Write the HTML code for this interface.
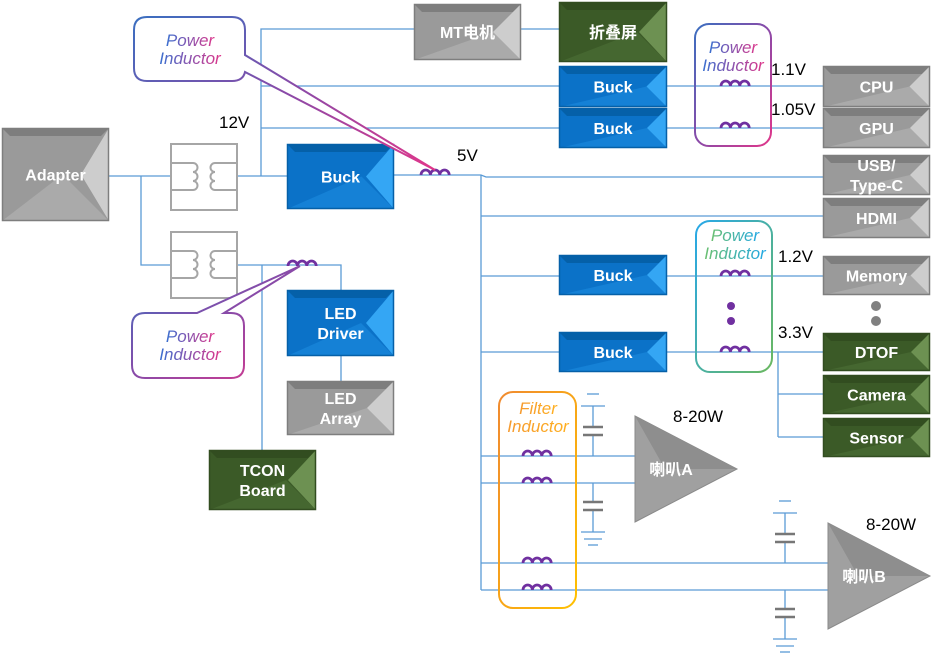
<!DOCTYPE html>
<html><head><meta charset="utf-8"><style>
html,body{margin:0;padding:0;background:#fff;}
svg{display:block;font-family:"Liberation Sans","Noto Sans CJK SC",sans-serif;}
.bt{font-weight:bold;fill:#fff;font-size:16px;}
.v{font-size:17px;fill:#000;}
</style></head><body>
<svg id="s" width="944" height="653" viewBox="0 0 944 653" xmlns="http://www.w3.org/2000/svg">
<defs>
<linearGradient id="g1" x1="0" y1="0" x2="1" y2="1"><stop offset="0" stop-color="#3a6fc0"/><stop offset="0.5" stop-color="#8a4aa8"/><stop offset="1" stop-color="#e0368a"/></linearGradient>
<linearGradient id="g2" x1="0" y1="0" x2="1" y2="1"><stop offset="0" stop-color="#28a8e8"/><stop offset="1" stop-color="#6ab860"/></linearGradient>
<linearGradient id="g3" x1="0" y1="0" x2="1" y2="1"><stop offset="0" stop-color="#f08a30"/><stop offset="1" stop-color="#ffc000"/></linearGradient>
<linearGradient id="t1" x1="0" y1="0" x2="1" y2="0"><stop offset="0" stop-color="#3a70d0"/><stop offset="1" stop-color="#e0368a"/></linearGradient>
<linearGradient id="t2" x1="0" y1="0" x2="1" y2="0"><stop offset="0" stop-color="#6cc070"/><stop offset="1" stop-color="#20a8e8"/></linearGradient>
<linearGradient id="t3" x1="0" y1="0" x2="1" y2="0"><stop offset="0" stop-color="#f59a30"/><stop offset="1" stop-color="#ffb020"/></linearGradient>
</defs>
<g id="lines" stroke="#5b9bd5" stroke-width="1.3" fill="none"></g>
<g id="fig"></g>
</svg>
<script>
var NS="http://www.w3.org/2000/svg";
function el(p,t,a,txt){var e=document.createElementNS(NS,t);for(var k in a)e.setAttribute(k,a[k]);if(txt!=null)e.textContent=txt;p.appendChild(e);return e;}
var L=document.getElementById('lines'),F=document.getElementById('fig');
function ln(pts){el(L,'polyline',{points:pts});}
[
"109,176 170,176","141,176 141,265 170,265",
"237,176 287,176","261,176 261,29 414,29","261,86 559,86","261,128 559,128","521,29 559,29",
"667,86 823,86","667,128 823,128",
"394,175 481,175 486,177 823,177","481,175 481,590","481,216 823,216",
"481,276 559,276","481,352 559,352","667,276 823,276","667,352 823,352",
"778,352 778,437","778,394 823,394","778,437 823,437",
"481,456 635,456","481,483 635,483","481,563 828,563","481,590 828,590",
"237,265 341,265 341,290","262,265 262,450","341,356 341,381",
"593,406 593,427","593,435 593,456","593,483 593,502","593,510 593,532",
"785,513 785,534","785,542 785,563","785,590 785,609","785,617 785,639"
].forEach(ln);
function gtop(x,y){el(L,'line',{x1:x-6,y1:y,x2:x+6,y2:y});el(L,'line',{x1:x-12,y1:y+12,x2:x+12,y2:y+12});}
function gbot(x,y){el(L,'line',{x1:x-12,y1:y,x2:x+12,y2:y});el(L,'line',{x1:x-9,y1:y+7,x2:x+9,y2:y+7});el(L,'line',{x1:x-5,y1:y+13,x2:x+5,y2:y+13});}
gtop(593,394);gbot(593,532);gtop(785,501);gbot(785,639);
function cap(x,y){el(F,'line',{x1:x-10,y1:y,x2:x+10,y2:y,stroke:'#777','stroke-width':2.5});el(F,'line',{x1:x-10,y1:y+8,x2:x+10,y2:y+8,stroke:'#777','stroke-width':2.5});}
cap(593,427);cap(593,502);cap(785,534);cap(785,609);
function ind(x,y){var d='M'+x+','+y;for(var i=0;i<3;i++){d+=' a4.7,5 0 0 1 9.4,0';}
 el(F,'path',{d:d,stroke:'#7030a0','stroke-width':2.8,fill:'none'});}
ind(421,175);ind(288,266);ind(721,86);ind(721,128);ind(721,276);ind(721,352);
[456,483,563,590].forEach(function(y){ind(523,y);});
el(F,'circle',{cx:731,cy:306,r:4,fill:'#7030a0'});el(F,'circle',{cx:731,cy:321,r:4,fill:'#7030a0'});
el(F,'circle',{cx:876,cy:306,r:5,fill:'#808080'});el(F,'circle',{cx:876,cy:321,r:5,fill:'#808080'});
function tr(x,y){var g='#a6a6a6';
 el(F,'rect',{x:x,y:y,width:66,height:66,fill:'#fff',stroke:g,'stroke-width':2});
 el(F,'path',{d:'M'+x+','+(y+19)+' h22 a4.5,4.5 0 0 1 0,9 a4.5,4.5 0 0 1 0,9 a4.5,4.5 0 0 1 0,9 h-22',stroke:g,'stroke-width':2,fill:'none'});
 el(F,'path',{d:'M'+(x+66)+','+(y+19)+' h-22 a4.5,4.5 0 0 0 0,9 a4.5,4.5 0 0 0 0,9 a4.5,4.5 0 0 0 0,9 h22',stroke:g,'stroke-width':2,fill:'none'});}
tr(171,144);tr(171,232);
var C={g:['#9a9a9a','#7e7e7e','#cdcdcd','#b0b0b0'],b:['#0b72c8','#0560a8','#34a6f4','#1a88dc'],n:['#3b5a27','#324d20','#6d9152','#4a6c35']};
function box(x,y,w,h,c,lines){var k=C[c];
 el(F,'rect',{x:x,y:y,width:w,height:h,fill:k[0]});
 el(F,'polygon',{points:x+','+y+' '+(x+w)+','+y+' '+(x+w-8)+','+(y+8)+' '+(x+8)+','+(y+8),fill:k[1]});
 el(F,'polygon',{points:x+','+(y+h)+' '+(x+w)+','+(y+h)+' '+(x+w-h*0.5)+','+(y+h*0.5),fill:k[3],opacity:0.7});
 el(F,'polygon',{points:(x+w)+','+y+' '+(x+w)+','+(y+h)+' '+(x+w-Math.min(h*0.5,28))+','+(y+h/2),fill:k[2]});
 el(F,'rect',{x:x+0.5,y:y+0.5,width:w-1,height:h-1,fill:'none',stroke:k[1],'stroke-width':1.5});
 var n=lines.length,lh=20,cy=y+h/2-(n-1)*lh/2+6;
 lines.forEach(function(t,i){el(F,'text',{x:x+w/2,y:cy+i*lh,'text-anchor':'middle','class':'bt'},t);});}
box(2,128,107,93,'g',['Adapter']);
box(414,4,107,56,'g',['MT电机']);
box(559,2,108,60,'n',['折叠屏']);
box(559,66,108,41,'b',['Buck']);box(559,108,108,40,'b',['Buck']);
box(823,66,107,41,'g',['CPU']);box(823,108,107,40,'g',['GPU']);
box(823,155,107,40,'g',['USB/','Type-C']);box(823,198,107,40,'g',['HDMI']);
box(823,256,107,39,'g',['Memory']);
box(823,333,107,38,'n',['DTOF']);box(823,375,107,39,'n',['Camera']);box(823,418,107,39,'n',['Sensor']);
box(287,144,107,65,'b',['Buck']);
box(559,255,108,40,'b',['Buck']);box(559,332,108,40,'b',['Buck']);
box(287,290,107,66,'b',['LED','Driver']);box(287,381,107,54,'g',['LED','Array']);
box(209,450,107,60,'n',['TCON','Board']);
function spk(x,y,h,t){el(F,'polygon',{points:x+','+y+' '+(x+102)+','+(y+h/2)+' '+x+','+(y+h),fill:'#a0a0a0',stroke:'#8a8a8a'});
 el(F,'polygon',{points:x+','+y+' '+(x+102)+','+(y+h/2)+' '+(x+30)+','+(y+h/2),fill:'#8e8e8e'});
 el(F,'text',{x:x+36,y:y+h/2+6,'text-anchor':'middle','class':'bt','font-size':'15'},t);}
spk(635,416,106,'喇叭A');spk(828,523,106,'喇叭B');
el(F,'path',{d:'M134,30 q0,-13 13,-13 h85 q13,0 13,13 v25 L435,170 L245,72 q-2,9 -13,9 h-85 q-13,0 -13,-13 z',fill:'#fff',stroke:'url(#g1)','stroke-width':2});
el(F,'path',{d:'M132,326 q0,-13 13,-13 h52 L300,266 L224,313 h7 q13,0 13,13 v39 q0,13 -13,13 h-86 q-13,0 -13,-13 z',fill:'#fff',stroke:'url(#g1)','stroke-width':2});
function pi(x,y,g){el(F,'text',{x:x,y:y,'text-anchor':'middle','font-style':'italic','font-size':'17',fill:'url(#'+g+')'},'Power');
 el(F,'text',{x:x,y:y+18,'text-anchor':'middle','font-style':'italic','font-size':'17',fill:'url(#'+g+')'},'Inductor');}
pi(190,46,'t1');pi(190,342,'t1');
el(F,'rect',{x:695,y:24,width:76,height:122,rx:14,fill:'none',stroke:'url(#g1)','stroke-width':2});
pi(733,53,'t1');
el(F,'rect',{x:696,y:221,width:76,height:151,rx:14,fill:'none',stroke:'url(#g2)','stroke-width':2});
pi(735,241,'t2');
el(F,'rect',{x:499,y:392,width:77,height:216,rx:14,fill:'none',stroke:'url(#g3)','stroke-width':2});
el(F,'text',{x:538,y:414,'text-anchor':'middle','font-style':'italic','font-size':'17',fill:'url(#t3)'},'Filter');
el(F,'text',{x:538,y:432,'text-anchor':'middle','font-style':'italic','font-size':'17',fill:'url(#t3)'},'Inductor');
[[219,128,'12V'],[457,161,'5V'],[771,75,'1.1V'],[771,115,'1.05V'],[778,262,'1.2V'],[778,338,'3.3V'],[673,422,'8-20W'],[866,530,'8-20W']].forEach(function(a){el(F,'text',{x:a[0],y:a[1],'class':'v'},a[2]);});
</script>
</body></html>
